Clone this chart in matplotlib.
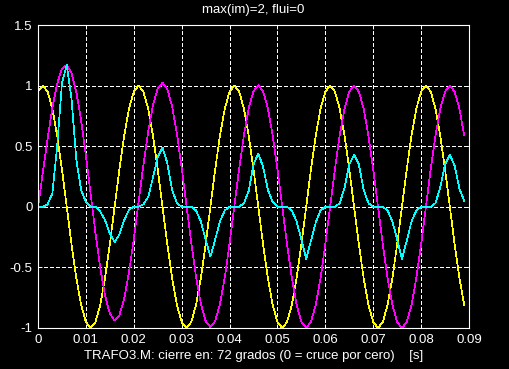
import numpy as np
import matplotlib
matplotlib.use("Agg")
import matplotlib.pyplot as plt
from matplotlib.ticker import FuncFormatter

# samples every 1 ms
SAMPLE_STEP = 0.001

# voltage (yellow), closing at 72 deg
volt = [0.951, 1.0, 0.951, 0.809, 0.588, 0.309, 0.0, -0.309, -0.588, -0.809,
        -0.951, -1.0, -0.951, -0.809, -0.588, -0.309, 0.0, 0.309, 0.588, 0.809,
        0.951, 1.0, 0.951, 0.809, 0.588, 0.309, 0.0, -0.309, -0.588, -0.809,
        -0.951, -1.0, -0.951, -0.809, -0.588, -0.309, 0.0, 0.309, 0.588, 0.809,
        0.951, 1.0, 0.951, 0.809, 0.588, 0.309, 0.0, -0.309, -0.588, -0.809,
        -0.951, -1.0, -0.951, -0.809, -0.588, -0.309, 0.0, 0.309, 0.588, 0.809,
        0.951, 1.0, 0.951, 0.809, 0.588, 0.309, 0.0, -0.309, -0.588, -0.809,
        -0.951, -1.0, -0.951, -0.809, -0.588, -0.309, 0.0, 0.309, 0.588, 0.809,
        0.951, 1.0, 0.951, 0.809, 0.588, 0.309, 0.0, -0.309, -0.588, -0.809]

# flux (magenta)
flux = [0.0, 0.280, 0.562, 0.817, 1.016, 1.138, 1.170, 1.104, 0.948, 0.714,
        0.423, 0.103, -0.216, -0.504, -0.733, -0.882, -0.938, -0.894, -0.758, -0.542,
        -0.267, 0.038, 0.343, 0.619, 0.837, 0.976, 1.023, 0.972, 0.828, 0.605,
        0.324, 0.014, -0.296, -0.577, -0.799, -0.942, -0.992, -0.943, -0.802, -0.582,
        -0.303, 0.005, 0.314, 0.592, 0.813, 0.954, 1.003, 0.954, 0.812, 0.590,
        0.311, 0.002, -0.307, -0.586, -0.808, -0.950, -0.999, -0.950, -0.808, -0.587,
        -0.308, 0.001, 0.310, 0.589, 0.809, 0.951, 1.0, 0.951, 0.809, 0.588,
        0.309, 0.0, -0.309, -0.588, -0.809, -0.951, -1.0, -0.951, -0.809, -0.588,
        -0.309, 0.0, 0.309, 0.588, 0.809, 0.951, 1.0, 0.951, 0.809, 0.588]

# magnetizing current (cyan)
curr = [0.0, 0.0, 0.02, 0.11, 0.50, 1.02, 1.17, 0.89, 0.39, 0.14,
        0.04, 0.0, 0.0, -0.04, -0.11, -0.22, -0.29, -0.23, -0.11, -0.025,
        0.0, 0.0, 0.02, 0.08, 0.24, 0.41, 0.49, 0.36, 0.14, 0.03,
        0.0, 0.0, 0.0, -0.03, -0.12, -0.27, -0.41, -0.27, -0.12, -0.03,
        0.0, 0.0, 0.0, 0.03, 0.13, 0.35, 0.44, 0.33, 0.14, 0.04,
        0.0, 0.0, 0.0, -0.03, -0.12, -0.27, -0.43, -0.28, -0.13, -0.03,
        0.0, 0.0, 0.0, 0.03, 0.155, 0.35, 0.43, 0.35, 0.14, 0.03,
        0.0, 0.0, 0.0, -0.03, -0.12, -0.27, -0.43, -0.28, -0.12, -0.03,
        0.0, 0.0, 0.0, 0.03, 0.16, 0.35, 0.43, 0.34, 0.15, 0.05]

xticks = [0, 0.01, 0.02, 0.03, 0.04, 0.05, 0.06, 0.07, 0.08, 0.09]
yticks = [-1, -0.5, 0, 0.5, 1, 1.5]

plt.rcParams["font.family"] = ["Liberation Sans", "DejaVu Sans"]
plt.rcParams["font.size"] = 9.5

t = np.arange(len(volt)) * SAMPLE_STEP

fig = plt.figure(figsize=(5.09, 3.69), dpi=100, facecolor="black")
ax = fig.add_axes([38 / 509, 41 / 369, 431 / 509, 303 / 369], facecolor="black")

# thin aliased traces, like the old screen dump
lw = 0.5
ax.plot(t, volt, color="#ffff00", lw=lw, antialiased=False)
ax.plot(t, flux, color="#ff00ff", lw=lw, antialiased=False)
ax.plot(t, curr, color="#00ffff", lw=lw, antialiased=False)

ax.set_xlim(0, 0.09)
ax.set_ylim(-1, 1.5)
ax.set_xticks(xticks)
ax.set_yticks(yticks)
fmt = FuncFormatter(lambda v, p: f"{v:g}")
ax.xaxis.set_major_formatter(fmt)
ax.yaxis.set_major_formatter(fmt)
ax.grid(True, color="white", lw=0.5, ls=(0, (5, 4)), antialiased=False)
ax.tick_params(colors="white", direction="in", length=3, width=0.6,
               top=True, right=True, labelsize=9.5, pad=4)
for s in ax.spines.values():
    s.set_color("white")
    s.set_linewidth(0.8)

ax.set_title("max(im)=2, flui=0", color="white", fontsize=9.5, pad=9)
ax.set_xlabel("TRAFO3.M: cierre en: 72 grados (0 = cruce por cero)    [s]",
              color="white", fontsize=9.5, labelpad=3)

fig.savefig("out.png", dpi=100, facecolor="black")
